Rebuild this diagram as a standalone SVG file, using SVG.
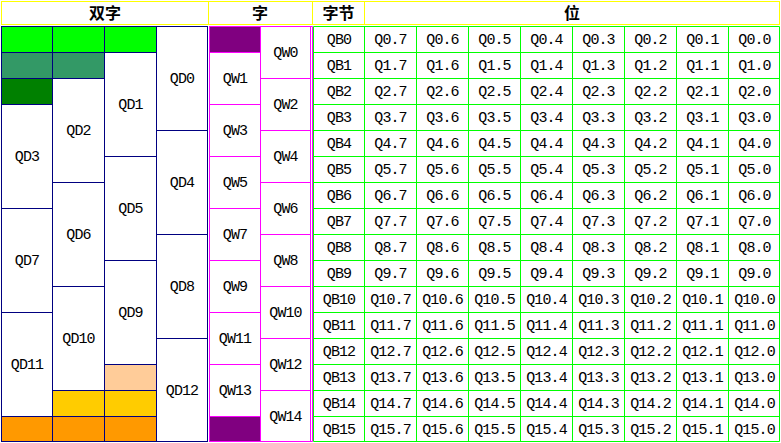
<svg xmlns="http://www.w3.org/2000/svg" width="781" height="443" viewBox="0 0 781 443">
<style>
.t{font-family:"Liberation Mono",monospace;font-size:15px;letter-spacing:-0.9px;text-anchor:middle;fill:#000}
.h{font-family:"Noto Sans CJK SC",sans-serif;font-size:16px;font-weight:bold;text-anchor:middle;fill:#000}
.hd{fill:#fff;stroke:#ffff00;stroke-width:1}
.d{stroke:#000080;stroke-width:1;fill:#fff}
.w{stroke:#ff00ff;stroke-width:1;fill:#fff}
.g{stroke:#00ff00;stroke-width:1;fill:none}
.gr{fill:#00ff00}
.sg{fill:#339966}
.dg{fill:#008000}
.pe{fill:#ffcc99}
.go{fill:#ffcc00}
.or{fill:#ff9900}
.pu{fill:#800080}
</style>
<rect width="781" height="443" fill="#fff"/>
<g id="header">
<rect class="hd" x="1.5" y="1.5" width="207" height="23"/>
<rect class="hd" x="208.5" y="1.5" width="104" height="23"/>
<rect class="hd" x="312.5" y="1.5" width="52" height="23"/>
<rect class="hd" x="364.5" y="1.5" width="415" height="23"/>
<text class="h" x="105" y="19">双字</text>
<text class="h" x="260" y="19">字</text>
<text class="h" x="338.5" y="19">字节</text>
<text class="h" x="572" y="19">位</text>
</g>
<g id="dwords">
<rect class="d gr" x="1.5" y="26.5" width="51" height="26"/>
<rect class="d sg" x="1.5" y="52.5" width="51" height="26"/>
<rect class="d dg" x="1.5" y="78.5" width="51" height="26"/>
<rect class="d" x="1.5" y="104.5" width="51" height="104"/>
<rect class="d" x="1.5" y="208.5" width="51" height="104"/>
<rect class="d" x="1.5" y="312.5" width="51" height="104"/>
<rect class="d or" x="1.5" y="416.5" width="51" height="25"/>
<rect class="d gr" x="52.5" y="26.5" width="52" height="26"/>
<rect class="d sg" x="52.5" y="52.5" width="52" height="26"/>
<rect class="d" x="52.5" y="78.5" width="52" height="104"/>
<rect class="d" x="52.5" y="182.5" width="52" height="104"/>
<rect class="d" x="52.5" y="286.5" width="52" height="104"/>
<rect class="d go" x="52.5" y="390.5" width="52" height="26"/>
<rect class="d or" x="52.5" y="416.5" width="52" height="25"/>
<rect class="d gr" x="104.5" y="26.5" width="52" height="26"/>
<rect class="d" x="104.5" y="52.5" width="52" height="104"/>
<rect class="d" x="104.5" y="156.5" width="52" height="104"/>
<rect class="d" x="104.5" y="260.5" width="52" height="104"/>
<rect class="d pe" x="104.5" y="364.5" width="52" height="26"/>
<rect class="d go" x="104.5" y="390.5" width="52" height="26"/>
<rect class="d or" x="104.5" y="416.5" width="52" height="25"/>
<rect class="d" x="156.5" y="26.5" width="51" height="104"/>
<rect class="d" x="156.5" y="130.5" width="51" height="104"/>
<rect class="d" x="156.5" y="234.5" width="51" height="104"/>
<rect class="d" x="156.5" y="338.5" width="51" height="103"/>
<text class="t" x="182" y="83">QD0</text>
<text class="t" x="130.5" y="109">QD1</text>
<text class="t" x="78.5" y="135">QD2</text>
<text class="t" x="27" y="161">QD3</text>
<text class="t" x="182" y="187">QD4</text>
<text class="t" x="130.5" y="213">QD5</text>
<text class="t" x="78.5" y="239">QD6</text>
<text class="t" x="27" y="265">QD7</text>
<text class="t" x="182" y="291">QD8</text>
<text class="t" x="130.5" y="317">QD9</text>
<text class="t" x="78.5" y="343">QD10</text>
<text class="t" x="27" y="369">QD11</text>
<text class="t" x="182" y="395">QD12</text>
</g>
<g id="words">
<rect class="w pu" x="209.5" y="26.5" width="51" height="26"/>
<rect class="w" x="209.5" y="52.5" width="51" height="52"/>
<rect class="w" x="209.5" y="104.5" width="51" height="52"/>
<rect class="w" x="209.5" y="156.5" width="51" height="52"/>
<rect class="w" x="209.5" y="208.5" width="51" height="52"/>
<rect class="w" x="209.5" y="260.5" width="51" height="52"/>
<rect class="w" x="209.5" y="312.5" width="51" height="52"/>
<rect class="w" x="209.5" y="364.5" width="51" height="52"/>
<rect class="w pu" x="209.5" y="416.5" width="51" height="25"/>
<rect class="w" x="260.5" y="26.5" width="50" height="52"/>
<rect class="w" x="260.5" y="78.5" width="50" height="52"/>
<rect class="w" x="260.5" y="130.5" width="50" height="52"/>
<rect class="w" x="260.5" y="182.5" width="50" height="52"/>
<rect class="w" x="260.5" y="234.5" width="50" height="52"/>
<rect class="w" x="260.5" y="286.5" width="50" height="52"/>
<rect class="w" x="260.5" y="338.5" width="50" height="52"/>
<rect class="w" x="260.5" y="390.5" width="50" height="51"/>
<path d="M310.5 26.5H312.5V441.5H310.5" fill="none" stroke="#ff00ff" stroke-width="1"/>
<text class="t" x="285.5" y="57">QW0</text>
<text class="t" x="235" y="83">QW1</text>
<text class="t" x="285.5" y="109">QW2</text>
<text class="t" x="235" y="135">QW3</text>
<text class="t" x="285.5" y="161">QW4</text>
<text class="t" x="235" y="187">QW5</text>
<text class="t" x="285.5" y="213">QW6</text>
<text class="t" x="235" y="239">QW7</text>
<text class="t" x="285.5" y="265">QW8</text>
<text class="t" x="235" y="291">QW9</text>
<text class="t" x="285.5" y="317">QW10</text>
<text class="t" x="235" y="343">QW11</text>
<text class="t" x="285.5" y="369">QW12</text>
<text class="t" x="235" y="395">QW13</text>
<text class="t" x="285.5" y="421">QW14</text>
</g>
<g id="grid">
<path class="g" d="M313.5 26.5H779.5M313.5 52.5H779.5M313.5 78.5H779.5M313.5 104.5H779.5M313.5 130.5H779.5M313.5 156.5H779.5M313.5 182.5H779.5M313.5 208.5H779.5M313.5 234.5H779.5M313.5 260.5H779.5M313.5 286.5H779.5M313.5 312.5H779.5M313.5 338.5H779.5M313.5 364.5H779.5M313.5 390.5H779.5M313.5 416.5H779.5M313.5 441.5H779.5M313.5 26.5V441.5M364.5 26.5V441.5M416.5 26.5V441.5M468.5 26.5V441.5M520.5 26.5V441.5M572.5 26.5V441.5M624.5 26.5V441.5M676.5 26.5V441.5M728.5 26.5V441.5M779.5 26.5V441.5"/>
</g>
<g id="bytes">
<text class="t" x="339" y="44">QB0</text>
<text class="t" x="339" y="70">QB1</text>
<text class="t" x="339" y="96">QB2</text>
<text class="t" x="339" y="122">QB3</text>
<text class="t" x="339" y="148">QB4</text>
<text class="t" x="339" y="174">QB5</text>
<text class="t" x="339" y="200">QB6</text>
<text class="t" x="339" y="226">QB7</text>
<text class="t" x="339" y="252">QB8</text>
<text class="t" x="339" y="278">QB9</text>
<text class="t" x="339" y="304">QB10</text>
<text class="t" x="339" y="330">QB11</text>
<text class="t" x="339" y="356">QB12</text>
<text class="t" x="339" y="382">QB13</text>
<text class="t" x="339" y="408">QB14</text>
<text class="t" x="339" y="434">QB15</text>
</g>
<g id="bits">
<text class="t" y="44"><tspan x="390.5">Q0.7</tspan><tspan x="442.5">Q0.6</tspan><tspan x="494.5">Q0.5</tspan><tspan x="546.5">Q0.4</tspan><tspan x="598.5">Q0.3</tspan><tspan x="650.5">Q0.2</tspan><tspan x="702.5">Q0.1</tspan><tspan x="754.5">Q0.0</tspan></text>
<text class="t" y="70"><tspan x="390.5">Q1.7</tspan><tspan x="442.5">Q1.6</tspan><tspan x="494.5">Q1.5</tspan><tspan x="546.5">Q1.4</tspan><tspan x="598.5">Q1.3</tspan><tspan x="650.5">Q1.2</tspan><tspan x="702.5">Q1.1</tspan><tspan x="754.5">Q1.0</tspan></text>
<text class="t" y="96"><tspan x="390.5">Q2.7</tspan><tspan x="442.5">Q2.6</tspan><tspan x="494.5">Q2.5</tspan><tspan x="546.5">Q2.4</tspan><tspan x="598.5">Q2.3</tspan><tspan x="650.5">Q2.2</tspan><tspan x="702.5">Q2.1</tspan><tspan x="754.5">Q2.0</tspan></text>
<text class="t" y="122"><tspan x="390.5">Q3.7</tspan><tspan x="442.5">Q3.6</tspan><tspan x="494.5">Q3.5</tspan><tspan x="546.5">Q3.4</tspan><tspan x="598.5">Q3.3</tspan><tspan x="650.5">Q3.2</tspan><tspan x="702.5">Q3.1</tspan><tspan x="754.5">Q3.0</tspan></text>
<text class="t" y="148"><tspan x="390.5">Q4.7</tspan><tspan x="442.5">Q4.6</tspan><tspan x="494.5">Q4.5</tspan><tspan x="546.5">Q4.4</tspan><tspan x="598.5">Q4.3</tspan><tspan x="650.5">Q4.2</tspan><tspan x="702.5">Q4.1</tspan><tspan x="754.5">Q4.0</tspan></text>
<text class="t" y="174"><tspan x="390.5">Q5.7</tspan><tspan x="442.5">Q5.6</tspan><tspan x="494.5">Q5.5</tspan><tspan x="546.5">Q5.4</tspan><tspan x="598.5">Q5.3</tspan><tspan x="650.5">Q5.2</tspan><tspan x="702.5">Q5.1</tspan><tspan x="754.5">Q5.0</tspan></text>
<text class="t" y="200"><tspan x="390.5">Q6.7</tspan><tspan x="442.5">Q6.6</tspan><tspan x="494.5">Q6.5</tspan><tspan x="546.5">Q6.4</tspan><tspan x="598.5">Q6.3</tspan><tspan x="650.5">Q6.2</tspan><tspan x="702.5">Q6.1</tspan><tspan x="754.5">Q6.0</tspan></text>
<text class="t" y="226"><tspan x="390.5">Q7.7</tspan><tspan x="442.5">Q7.6</tspan><tspan x="494.5">Q7.5</tspan><tspan x="546.5">Q7.4</tspan><tspan x="598.5">Q7.3</tspan><tspan x="650.5">Q7.2</tspan><tspan x="702.5">Q7.1</tspan><tspan x="754.5">Q7.0</tspan></text>
<text class="t" y="252"><tspan x="390.5">Q8.7</tspan><tspan x="442.5">Q8.6</tspan><tspan x="494.5">Q8.5</tspan><tspan x="546.5">Q8.4</tspan><tspan x="598.5">Q8.3</tspan><tspan x="650.5">Q8.2</tspan><tspan x="702.5">Q8.1</tspan><tspan x="754.5">Q8.0</tspan></text>
<text class="t" y="278"><tspan x="390.5">Q9.7</tspan><tspan x="442.5">Q9.6</tspan><tspan x="494.5">Q9.5</tspan><tspan x="546.5">Q9.4</tspan><tspan x="598.5">Q9.3</tspan><tspan x="650.5">Q9.2</tspan><tspan x="702.5">Q9.1</tspan><tspan x="754.5">Q9.0</tspan></text>
<text class="t" y="304"><tspan x="390.5">Q10.7</tspan><tspan x="442.5">Q10.6</tspan><tspan x="494.5">Q10.5</tspan><tspan x="546.5">Q10.4</tspan><tspan x="598.5">Q10.3</tspan><tspan x="650.5">Q10.2</tspan><tspan x="702.5">Q10.1</tspan><tspan x="754.5">Q10.0</tspan></text>
<text class="t" y="330"><tspan x="390.5">Q11.7</tspan><tspan x="442.5">Q11.6</tspan><tspan x="494.5">Q11.5</tspan><tspan x="546.5">Q11.4</tspan><tspan x="598.5">Q11.3</tspan><tspan x="650.5">Q11.2</tspan><tspan x="702.5">Q11.1</tspan><tspan x="754.5">Q11.0</tspan></text>
<text class="t" y="356"><tspan x="390.5">Q12.7</tspan><tspan x="442.5">Q12.6</tspan><tspan x="494.5">Q12.5</tspan><tspan x="546.5">Q12.4</tspan><tspan x="598.5">Q12.3</tspan><tspan x="650.5">Q12.2</tspan><tspan x="702.5">Q12.1</tspan><tspan x="754.5">Q12.0</tspan></text>
<text class="t" y="382"><tspan x="390.5">Q13.7</tspan><tspan x="442.5">Q13.6</tspan><tspan x="494.5">Q13.5</tspan><tspan x="546.5">Q13.4</tspan><tspan x="598.5">Q13.3</tspan><tspan x="650.5">Q13.2</tspan><tspan x="702.5">Q13.1</tspan><tspan x="754.5">Q13.0</tspan></text>
<text class="t" y="408"><tspan x="390.5">Q14.7</tspan><tspan x="442.5">Q14.6</tspan><tspan x="494.5">Q14.5</tspan><tspan x="546.5">Q14.4</tspan><tspan x="598.5">Q14.3</tspan><tspan x="650.5">Q14.2</tspan><tspan x="702.5">Q14.1</tspan><tspan x="754.5">Q14.0</tspan></text>
<text class="t" y="434"><tspan x="390.5">Q15.7</tspan><tspan x="442.5">Q15.6</tspan><tspan x="494.5">Q15.5</tspan><tspan x="546.5">Q15.4</tspan><tspan x="598.5">Q15.3</tspan><tspan x="650.5">Q15.2</tspan><tspan x="702.5">Q15.1</tspan><tspan x="754.5">Q15.0</tspan></text>
</g>
</svg>
